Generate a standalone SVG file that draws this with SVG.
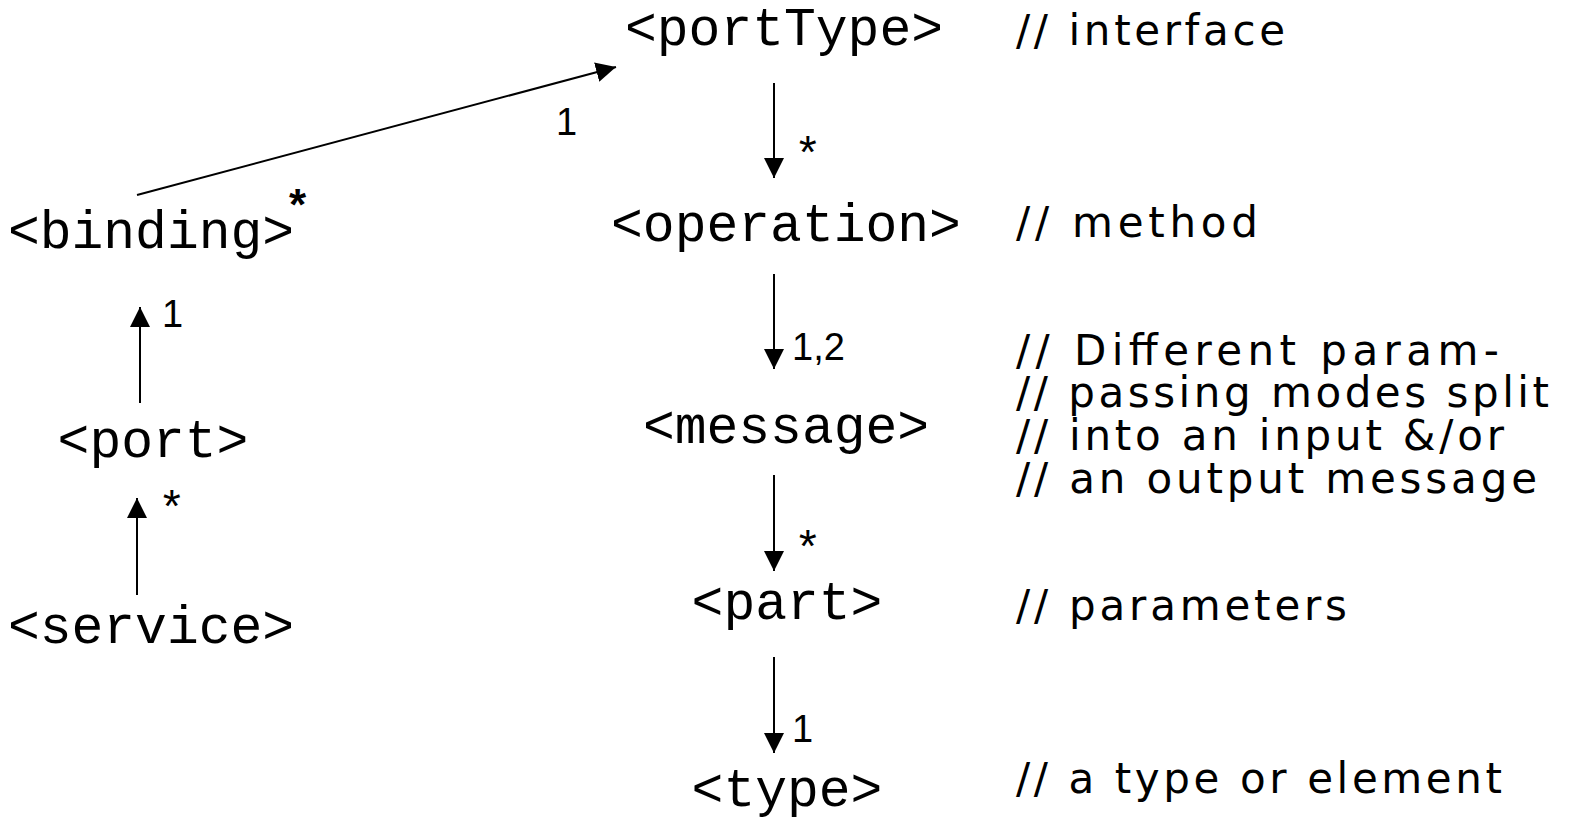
<svg xmlns="http://www.w3.org/2000/svg" width="1572" height="820" viewBox="0 0 1572 820">
  <defs>
    <style>
      .tag { font-family: "Liberation Mono", "Courier New", monospace; font-size: 53px; fill: #000; }
      .note { font-family: "DejaVu Sans", "Liberation Sans", sans-serif; font-size: 42px; fill: #000; }
      .mult { font-family: "Liberation Sans", Arial, sans-serif; font-size: 38px; fill: #000; }
      .star { font-family: "Liberation Mono", "Courier New", monospace; font-size: 46px; fill: #000; }
      .edge { stroke: #000; stroke-width: 2; fill: none; marker-end: url(#head); }
    </style>
    <marker id="head" markerUnits="userSpaceOnUse" markerWidth="20" markerHeight="20" refX="20" refY="10" orient="auto">
      <path d="M0,0 L20,10 L0,20 Z" fill="#000"/>
    </marker>
  </defs>
  <rect width="1572" height="820" fill="#fff"/>

  <!-- WSDL element hierarchy -->
  <g id="node-portType"><text class="tag" x="784" y="45" text-anchor="middle">&lt;portType&gt;</text></g>
  <g id="node-operation"><text class="tag" x="786" y="241" text-anchor="middle">&lt;operation&gt;</text></g>
  <g id="node-message"><text class="tag" x="786" y="443" text-anchor="middle">&lt;message&gt;</text></g>
  <g id="node-part"><text class="tag" x="787" y="619" text-anchor="middle">&lt;part&gt;</text></g>
  <g id="node-type"><text class="tag" x="787" y="806" text-anchor="middle">&lt;type&gt;</text></g>
  <g id="node-binding"><text class="tag" x="151" y="248" text-anchor="middle">&lt;binding&gt;</text></g>
  <g id="node-port"><text class="tag" x="153" y="457" text-anchor="middle">&lt;port&gt;</text></g>
  <g id="node-service"><text class="tag" x="151" y="643" text-anchor="middle">&lt;service&gt;</text></g>

  <!-- connectors with multiplicities -->
  <g id="connectors">
    <line class="edge" x1="137" y1="195" x2="616" y2="67"/>
    <line class="edge" x1="774" y1="83" x2="774" y2="178"/>
    <line class="edge" x1="774" y1="274" x2="774" y2="369"/>
    <line class="edge" x1="774" y1="475" x2="774" y2="571"/>
    <line class="edge" x1="774" y1="657" x2="774" y2="753"/>
    <line class="edge" x1="140" y1="403" x2="140" y2="307"/>
    <line class="edge" x1="137" y1="595" x2="137" y2="498"/>

    <text class="mult" x="556" y="135">1</text>
    <text x="289" y="220" font-family="Liberation Sans, Arial, sans-serif" font-size="44" font-weight="bold">*</text>
    <text class="star" x="794" y="170">*</text>
    <text class="mult" x="792" y="360">1,2</text>
    <text class="star" x="794" y="564">*</text>
    <text class="mult" x="792" y="742">1</text>
    <text class="mult" x="162" y="327">1</text>
    <text class="star" x="158" y="524">*</text>
  </g>

  <!-- annotations -->
  <g id="notes">
    <text class="note" x="1016" y="45" textLength="269" lengthAdjust="spacing">// interface</text>
    <text class="note" x="1016" y="237" textLength="242" lengthAdjust="spacing">// method</text>
    <text class="note" x="1016" y="365" textLength="483" lengthAdjust="spacing">// Different param-</text>
    <text class="note" x="1016" y="407" textLength="533" lengthAdjust="spacing">// passing modes split</text>
    <text class="note" x="1016" y="450" textLength="488" lengthAdjust="spacing">// into an input &amp;/or</text>
    <text class="note" x="1016" y="493" textLength="521" lengthAdjust="spacing">// an output message</text>
    <text class="note" x="1016" y="620" textLength="331" lengthAdjust="spacing">// parameters</text>
    <text class="note" x="1016" y="793" textLength="486" lengthAdjust="spacing">// a type or element</text>
  </g>
</svg>
